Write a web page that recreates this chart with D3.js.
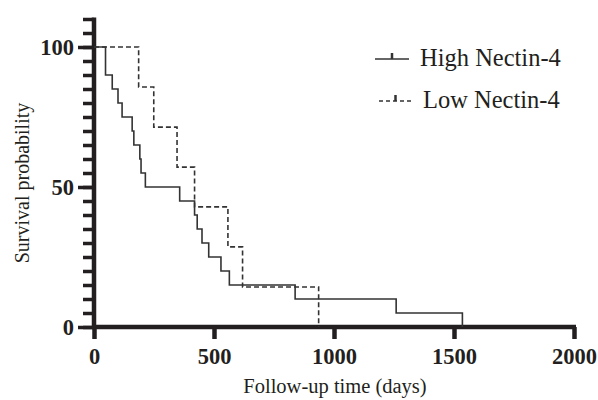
<!DOCTYPE html>
<html>
<head>
<meta charset="utf-8">
<script src="https://cdn.jsdelivr.net/npm/d3@7"></script>
<style>
  body { margin: 0; background: #fff; }
  svg text { font-family: "Liberation Serif", "Tinos", "DejaVu Serif", serif !important; fill: #231f20; }
</style>
</head>
<body>
<div id="chart"></div>
<script>
// Kaplan-Meier steps (days, % surviving)
var highTimes = [0, 48, 76, 100, 117, 159, 166, 191, 196, 214, 357, 419, 430, 450, 478, 529, 564, 838, 1259, 1535];
var highSurv  = [100, 90, 85, 80, 75, 70, 65, 60, 55, 50, 45, 40, 35, 30, 25, 20, 15, 10, 5, 0];
var lowTimes  = [0, 186, 249, 346, 419, 558, 619, 936];
var lowSurv   = [100, 85.7, 71.4, 57.1, 42.9, 28.6, 14.3, 0];

var xTicks = [0, 500, 1000, 1500, 2000];
var yMajor = [0, 50, 100];
var yMinor = d3.range(0, 111, 5);
var seriesNames = ["High Nectin-4", "Low Nectin-4"];

var width = 598, height = 400;
var margin = {top: 47, left: 94, right: 24, bottom: 73};
var ink = "#231f20";

var svg = d3.select("#chart")
  .append("svg")
  .attr("width", width)
  .attr("height", height);

var x = d3.scaleLinear()
  .domain([0, 2000])
  .range([margin.left, width - margin.right]);

var y = d3.scaleLinear()
  .domain([0, 100])
  .range([height - margin.bottom, margin.top]);

// y axis: minor ticks every 5, long ticks at 0/50/100
svg.append("g")
  .attr("transform", "translate(" + margin.left + ",0)")
  .call(d3.axisLeft(y).tickValues(yMinor).tickSize(11).tickFormat(""))
  .call(function(g) {
    g.select(".domain").remove();
    g.selectAll("line").attr("stroke", ink).attr("stroke-width", 3.5);
  });

svg.append("g")
  .attr("transform", "translate(" + margin.left + ",0)")
  .call(d3.axisLeft(y).tickValues(yMajor).tickSize(16).tickPadding(4).tickFormat(d3.format("d")))
  .call(function(g) {
    g.select(".domain").remove();
    g.selectAll("line").attr("stroke", ink).attr("stroke-width", 3.5);
    g.selectAll("text")
      .attr("font-size", 22.5)
      .attr("font-weight", "bold")
      .attr("fill", ink);
  });

svg.append("line")
  .attr("x1", margin.left).attr("x2", margin.left)
  .attr("y1", y(110.5)).attr("y2", y(0) + 2)
  .attr("stroke", ink).attr("stroke-width", 4.5);

// x axis
svg.append("g")
  .attr("transform", "translate(0," + y(0) + ")")
  .call(d3.axisBottom(x).tickValues(xTicks).tickSize(12).tickPadding(9).tickSizeOuter(0).tickFormat(d3.format("d")))
  .call(function(g) {
    g.select(".domain").remove();
    g.selectAll("line").attr("stroke", ink).attr("stroke-width", 4.5);
    g.selectAll("text")
      .attr("font-size", 22.5)
      .attr("font-weight", "bold")
      .attr("fill", ink);
  });

svg.append("line")
  .attr("x1", margin.left - 2).attr("x2", x(2000) + 2)
  .attr("y1", y(0)).attr("y2", y(0))
  .attr("stroke", ink).attr("stroke-width", 4.5);

// axis titles
svg.append("text")
  .attr("x", (x(0) + x(2000)) / 2 + 1)
  .attr("y", 393)
  .attr("text-anchor", "middle")
  .attr("font-size", 20.5)
  .text("Follow-up time (days)");

svg.append("text")
  .attr("transform", "translate(29,183)rotate(-90)")
  .attr("text-anchor", "middle")
  .attr("font-size", 20)
  .text("Survival probability");

// survival curves
var line = d3.line()
  .x(function(d) { return x(d[0]); })
  .y(function(d) { return y(d[1]); })
  .curve(d3.curveStepAfter);

var highPts = highTimes.map(function(t, i) { return [t, highSurv[i]]; });
var lowPts = lowTimes.map(function(t, i) { return [t, lowSurv[i]]; });

svg.append("path")
  .attr("d", line(lowPts))
  .attr("fill", "none")
  .attr("stroke", "#333")
  .attr("stroke-width", 1.6)
  .attr("stroke-dasharray", "5,3");

svg.append("path")
  .attr("d", line(highPts))
  .attr("fill", "none")
  .attr("stroke", "#333")
  .attr("stroke-width", 1.6);

// legend
var legend = svg.append("g");
var legendRows = [
  {name: seriesNames[0], y: 59, x1: 375, x2: 409, dash: null, tx: 420},
  {name: seriesNames[1], y: 101, x1: 379, x2: 412, dash: "4,3", tx: 423}
];
legendRows.forEach(function(r) {
  legend.append("line")
    .attr("x1", r.x1).attr("x2", r.x2)
    .attr("y1", r.y).attr("y2", r.y)
    .attr("stroke", "#333")
    .attr("stroke-width", 1.6)
    .attr("stroke-dasharray", r.dash);
  legend.append("line")
    .attr("x1", (r.x1 + r.x2) / 2).attr("x2", (r.x1 + r.x2) / 2)
    .attr("y1", r.y).attr("y2", r.y - 6)
    .attr("stroke", "#333")
    .attr("stroke-width", 2.5);
  legend.append("text")
    .attr("x", r.tx)
    .attr("y", r.y + 7)
    .attr("font-size", 24.5)
    .text(r.name);
});
</script>
</body>
</html>
